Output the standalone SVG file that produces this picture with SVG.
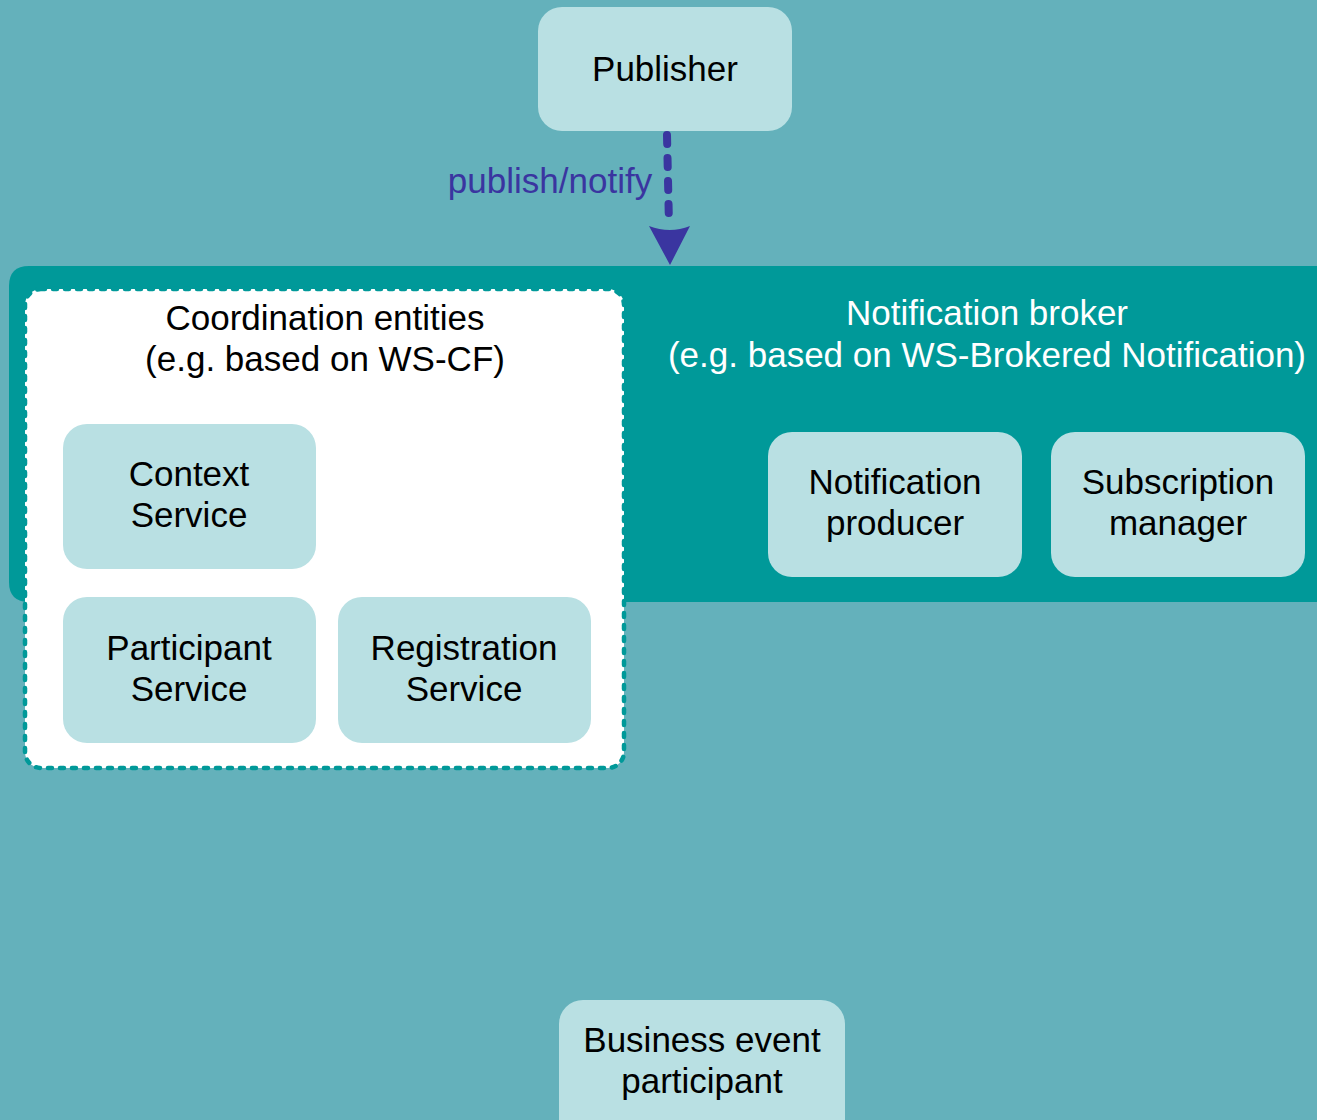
<svg xmlns="http://www.w3.org/2000/svg" width="1317" height="1120" viewBox="0 0 1317 1120">
<defs>
<style>
.node{fill:#b9e0e3}
.t{font-family:"Liberation Sans",Arial,sans-serif;font-size:35px;fill:#000;text-anchor:middle}
.w{fill:#fff}
.lbl{font-family:"Liberation Sans",Arial,sans-serif;font-size:35px;fill:#3a35a0;text-anchor:middle}
</style>
</defs>
<rect width="1317" height="1120" fill="#64b1bb"/>
<g id="broker">
<path d="M29 266 H1330 V602 H29 Q9 602 9 582 V286 Q9 266 29 266 Z" fill="#009999"/>
<text class="t w" x="987" y="325">Notification broker</text>
<text class="t w" x="987" y="367">(e.g. based on WS-Brokered Notification)</text>
</g>
<g id="coordination">
<rect x="25" y="289" width="599" height="479" rx="16" fill="#fff" stroke="#009999" stroke-width="4.5" stroke-dasharray="4,8" stroke-linecap="round"/>
<text class="t" x="325" y="330">Coordination entities</text>
<text class="t" x="325" y="371">(e.g. based on WS-CF)</text>
</g>
<g id="publisher">
<rect class="node" x="538" y="7" width="254" height="124" rx="24"/>
<text class="t" x="665" y="81">Publisher</text>
</g>
<g id="context">
<rect class="node" x="63" y="424" width="253" height="145" rx="24"/>
<text class="t" x="189" y="486">Context</text>
<text class="t" x="189" y="527">Service</text>
</g>
<g id="participant">
<rect class="node" x="63" y="597" width="253" height="146" rx="24"/>
<text class="t" x="189" y="660">Participant</text>
<text class="t" x="189" y="701">Service</text>
</g>
<g id="registration">
<rect class="node" x="338" y="597" width="253" height="146" rx="24"/>
<text class="t" x="464" y="660">Registration</text>
<text class="t" x="464" y="701">Service</text>
</g>
<g id="producer">
<rect class="node" x="768" y="432" width="254" height="145" rx="24"/>
<text class="t" x="895" y="494">Notification</text>
<text class="t" x="895" y="535">producer</text>
</g>
<g id="subscription">
<rect class="node" x="1051" y="432" width="254" height="145" rx="24"/>
<text class="t" x="1178" y="494">Subscription</text>
<text class="t" x="1178" y="535">manager</text>
</g>
<g id="business">
<rect class="node" x="559" y="1000" width="286" height="150" rx="24"/>
<text class="t" x="702" y="1052">Business event</text>
<text class="t" x="702" y="1093">participant</text>
</g>
<g id="connectors">
<path d="M667 135 L669 225" fill="none" stroke="#3a35a0" stroke-width="8" stroke-linecap="round" stroke-dasharray="9,14"/>
<path d="M649 226 Q670 234 690 226 L670 265 Z" fill="#3a35a0"/>
<text class="lbl" x="550" y="193">publish/notify</text>
</g>
</svg>
